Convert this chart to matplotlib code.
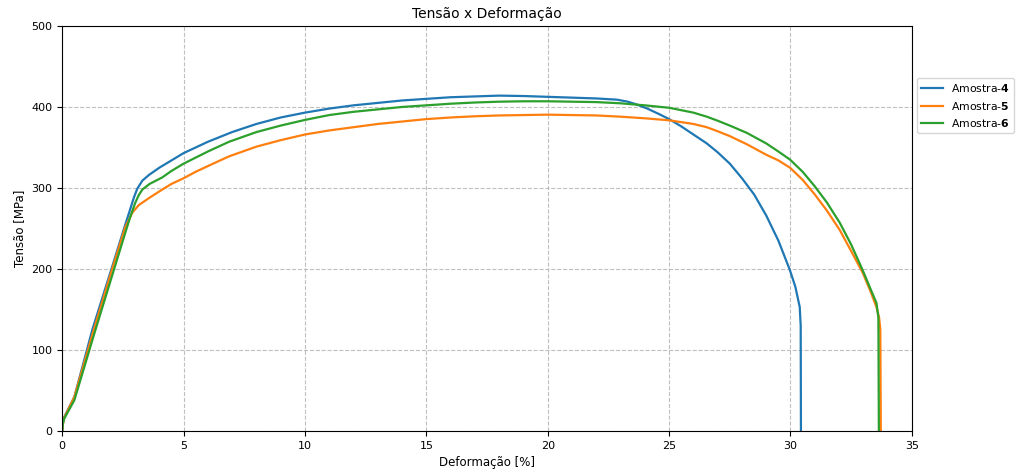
import matplotlib
matplotlib.use('Agg')
import matplotlib.pyplot as plt

# Dados (deformação em %, tensão em MPa)
def_4 = [0.0, 0.03, 0.08, 0.5, 1.24, 2.06, 2.6, 2.75, 2.95, 3.09, 3.3, 3.57, 4.0, 4.5,
         5.0, 6.0, 7.0, 8.0, 9.0, 10.0, 11.0, 12.0, 13.0, 14.0, 15.0, 16.0, 17.0,
         18.0, 19.0, 20.0, 21.0, 22.0, 22.85, 23.3, 23.67, 24.1, 24.6, 25.0, 25.5,
         26.0, 26.55, 27.0, 27.5, 28.0, 28.5, 29.0, 29.5, 29.97, 30.2,
         30.38, 30.42, 30.43]
ten_4 = [0, 10, 17, 42, 125, 203, 255, 269, 288, 299, 309, 316, 325, 334,
         343, 357, 369, 379, 387, 393, 398, 402, 405, 408, 410, 412, 413,
         414, 413.5, 412.5, 411.5, 410.5, 409, 406.5, 403, 398, 391, 385, 376,
         366, 355, 344, 330, 312, 292, 266, 235, 199, 178,
         153, 130, 0]

def_5 = [0.0, 0.03, 0.08, 0.5, 1.3, 2.06, 2.6, 2.75, 2.9, 3.16, 3.6, 4.12, 4.5,
         5.0, 5.5, 6.0, 6.87, 8.0, 9.0, 10.0, 11.0, 12.0, 13.0, 14.0, 15.0, 16.0,
         17.0, 18.0, 19.0, 20.0, 21.0, 22.0, 23.0, 24.0, 25.0, 26.0, 26.55, 27.0,
         27.5, 28.2, 29.0, 29.5, 29.98, 30.5, 31.0, 31.5, 32.03, 32.5, 32.98, 33.3,
         33.54, 33.65, 33.7, 33.72]
ten_5 = [0, 9, 16, 42, 125, 200, 252, 261, 270, 279, 288, 298, 305,
         312, 320, 327, 339, 351, 359, 366, 371, 375, 379, 382, 385, 387,
         388.5, 389.5, 390, 390.5, 390, 389.5, 388, 386, 383.5, 379, 375, 370,
         364, 354, 341, 334, 325, 310, 292, 272, 248, 222, 195, 172,
         153, 140, 125, 0]

def_6 = [0.0, 0.03, 0.08, 0.5, 1.37, 2.13, 2.6, 2.81, 3.0, 3.15, 3.3, 3.6, 4.12, 4.5,
         5.0, 6.0, 6.87, 8.0, 9.0, 10.0, 11.0, 12.0, 13.0, 14.0, 15.0, 16.0, 17.0,
         18.0, 19.0, 20.0, 21.0, 22.0, 23.0, 24.0, 25.0, 26.0, 26.55, 27.0, 27.5,
         28.2, 29.0, 29.5, 29.98, 30.5, 31.0, 31.5, 32.03, 32.5, 32.98, 33.3, 33.54,
         33.62, 33.64]
ten_6 = [0, 9, 15, 38, 125, 199, 245, 265, 281, 291, 298, 305, 313, 321,
         330, 345, 357, 369, 377, 384, 390, 394, 397, 400, 402, 404, 405.5,
         406.5, 407, 407, 406.5, 406, 404.5, 402, 399, 393, 388, 383, 377,
         368, 355, 345, 335, 320, 302, 282, 257, 230, 198, 175, 158,
         140, 0]

amostras = ['4', '5', '6']

plt.rcParams['font.size'] = 8.5

fig, ax = plt.subplots(figsize=(10.2, 4.72), dpi=100)
fig.subplots_adjust(left=0.061, right=0.894, bottom=0.087, top=0.945)

for x, y, n in zip([def_4, def_5, def_6], [ten_4, ten_5, ten_6], amostras):
    ax.plot(x, y, linewidth=1.6, label='Amostra-$\\bf{' + n + '}$')

ax.set_xlim(0, 35)
ax.set_ylim(0, 500)
ax.set_title('Tensão x Deformação', fontsize=10)
ax.set_xlabel('Deformação [%]', fontsize=8.5)
ax.set_ylabel('Tensão [MPa]', fontsize=8.5)
ax.tick_params(labelsize=8)
ax.grid(True, linestyle='--', color='#b0b0b0', alpha=0.8)
ax.legend(loc='upper left', bbox_to_anchor=(1.006, 0.872), borderaxespad=0,
          fontsize=7.8, handlelength=2.0, handletextpad=0.7)

plt.savefig('out.png')
